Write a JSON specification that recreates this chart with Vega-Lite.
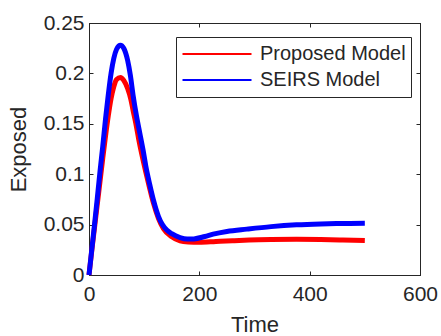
{
  "$schema": "https://vega.github.io/schema/vega-lite/v6.json",
  "autosize": "none",
  "width": 331,
  "height": 252,
  "padding": {"left": 89, "top": 23, "right": 21, "bottom": 61},
  "background": "white",
  "config": {
    "font": "Liberation Sans",
    "view": {"stroke": "#262626", "strokeWidth": 1},
    "axis": {"grid": false, "domainColor": "#262626", "tickColor": "#262626", "labelColor": "#262626", "titleColor": "#262626", "labelFont": "Liberation Sans", "titleFont": "Liberation Sans", "labelFontSize": 21, "titleFontSize": 22, "titleFontWeight": "normal", "tickSize": -4, "labelFlush": false, "labelOverlap": false}
  },
  "data": {"values": [
    {"t": 0, "E": 0, "model": "Proposed Model"},
    {"t": 5, "E": 0.024, "model": "Proposed Model"},
    {"t": 10, "E": 0.047, "model": "Proposed Model"},
    {"t": 15, "E": 0.07, "model": "Proposed Model"},
    {"t": 20, "E": 0.093, "model": "Proposed Model"},
    {"t": 25, "E": 0.116, "model": "Proposed Model"},
    {"t": 30, "E": 0.138, "model": "Proposed Model"},
    {"t": 35, "E": 0.158, "model": "Proposed Model"},
    {"t": 40, "E": 0.175, "model": "Proposed Model"},
    {"t": 45, "E": 0.187, "model": "Proposed Model"},
    {"t": 50, "E": 0.194, "model": "Proposed Model"},
    {"t": 57, "E": 0.196, "model": "Proposed Model"},
    {"t": 63, "E": 0.193, "model": "Proposed Model"},
    {"t": 70, "E": 0.185, "model": "Proposed Model"},
    {"t": 76, "E": 0.174, "model": "Proposed Model"},
    {"t": 80, "E": 0.163, "model": "Proposed Model"},
    {"t": 85, "E": 0.15, "model": "Proposed Model"},
    {"t": 90, "E": 0.135, "model": "Proposed Model"},
    {"t": 96, "E": 0.119, "model": "Proposed Model"},
    {"t": 103, "E": 0.102, "model": "Proposed Model"},
    {"t": 110, "E": 0.086, "model": "Proposed Model"},
    {"t": 117, "E": 0.071, "model": "Proposed Model"},
    {"t": 126, "E": 0.056, "model": "Proposed Model"},
    {"t": 135, "E": 0.046, "model": "Proposed Model"},
    {"t": 150, "E": 0.038, "model": "Proposed Model"},
    {"t": 165, "E": 0.034, "model": "Proposed Model"},
    {"t": 180, "E": 0.0328, "model": "Proposed Model"},
    {"t": 200, "E": 0.0324, "model": "Proposed Model"},
    {"t": 230, "E": 0.0332, "model": "Proposed Model"},
    {"t": 260, "E": 0.034, "model": "Proposed Model"},
    {"t": 290, "E": 0.0347, "model": "Proposed Model"},
    {"t": 330, "E": 0.0352, "model": "Proposed Model"},
    {"t": 376, "E": 0.0354, "model": "Proposed Model"},
    {"t": 420, "E": 0.0352, "model": "Proposed Model"},
    {"t": 460, "E": 0.0347, "model": "Proposed Model"},
    {"t": 500, "E": 0.0342, "model": "Proposed Model"},
    {"t": 0, "E": 0, "model": "SEIRS Model"},
    {"t": 5, "E": 0.025, "model": "SEIRS Model"},
    {"t": 10, "E": 0.05, "model": "SEIRS Model"},
    {"t": 15, "E": 0.076, "model": "SEIRS Model"},
    {"t": 20, "E": 0.103, "model": "SEIRS Model"},
    {"t": 25, "E": 0.128, "model": "SEIRS Model"},
    {"t": 30, "E": 0.155, "model": "SEIRS Model"},
    {"t": 35, "E": 0.179, "model": "SEIRS Model"},
    {"t": 40, "E": 0.2, "model": "SEIRS Model"},
    {"t": 45, "E": 0.215, "model": "SEIRS Model"},
    {"t": 50, "E": 0.224, "model": "SEIRS Model"},
    {"t": 57, "E": 0.228, "model": "SEIRS Model"},
    {"t": 63, "E": 0.225, "model": "SEIRS Model"},
    {"t": 70, "E": 0.213, "model": "SEIRS Model"},
    {"t": 75, "E": 0.198, "model": "SEIRS Model"},
    {"t": 80, "E": 0.178, "model": "SEIRS Model"},
    {"t": 86, "E": 0.158, "model": "SEIRS Model"},
    {"t": 92, "E": 0.141, "model": "SEIRS Model"},
    {"t": 98, "E": 0.124, "model": "SEIRS Model"},
    {"t": 103, "E": 0.108, "model": "SEIRS Model"},
    {"t": 110, "E": 0.09, "model": "SEIRS Model"},
    {"t": 117, "E": 0.074, "model": "SEIRS Model"},
    {"t": 126, "E": 0.058, "model": "SEIRS Model"},
    {"t": 133, "E": 0.05, "model": "SEIRS Model"},
    {"t": 141, "E": 0.0446, "model": "SEIRS Model"},
    {"t": 150, "E": 0.041, "model": "SEIRS Model"},
    {"t": 165, "E": 0.0372, "model": "SEIRS Model"},
    {"t": 178, "E": 0.0357, "model": "SEIRS Model"},
    {"t": 190, "E": 0.0358, "model": "SEIRS Model"},
    {"t": 210, "E": 0.0382, "model": "SEIRS Model"},
    {"t": 225, "E": 0.0405, "model": "SEIRS Model"},
    {"t": 250, "E": 0.0432, "model": "SEIRS Model"},
    {"t": 286, "E": 0.0455, "model": "SEIRS Model"},
    {"t": 330, "E": 0.048, "model": "SEIRS Model"},
    {"t": 376, "E": 0.0498, "model": "SEIRS Model"},
    {"t": 420, "E": 0.0507, "model": "SEIRS Model"},
    {"t": 460, "E": 0.0511, "model": "SEIRS Model"},
    {"t": 500, "E": 0.0513, "model": "SEIRS Model"}
  ]},
  "layer": [
    {
      "mark": {"type": "line", "strokeWidth": 5, "interpolate": "monotone"},
      "encoding": {
        "x": {"field": "t", "type": "quantitative", "scale": {"domain": [0, 600], "nice": false},
              "axis": {"orient": "bottom", "values": [0, 200, 400, 600], "title": "Time", "labelPadding": 12, "titlePadding": 10}},
        "y": {"field": "E", "type": "quantitative", "scale": {"domain": [0, 0.25], "nice": false},
              "axis": {"orient": "left", "values": [0, 0.05, 0.1, 0.15, 0.2, 0.25], "format": "~g", "title": "Exposed", "labelPadding": 9, "titlePadding": 13}},
        "color": {"field": "model", "type": "nominal",
                  "scale": {"domain": ["Proposed Model", "SEIRS Model"], "range": ["#ff0000", "#0000ff"]},
                  "legend": {"title": null, "orient": "none", "legendX": 87, "legendY": 14,
                             "symbolType": "stroke", "symbolSize": 4761, "symbolStrokeWidth": 2.2,
                             "clipHeight": 24, "rowPadding": 2, "padding": 5, "labelOffset": 7,
                             "labelFontSize": 20, "labelFont": "Liberation Sans", "labelColor": "#262626",
                             "strokeColor": "#262626", "fillColor": "white"}}
      }
    },
    {
      "mark": {"type": "point", "opacity": 0},
      "encoding": {
        "x": {"field": "t", "type": "quantitative", "axis": {"orient": "top", "values": [0, 200, 400, 600], "labels": false, "title": null}},
        "y": {"field": "E", "type": "quantitative", "axis": {"orient": "right", "values": [0, 0.05, 0.1, 0.15, 0.2, 0.25], "labels": false, "title": null}}
      }
    }
  ],
  "resolve": {"axis": {"x": "independent", "y": "independent"}}
}
